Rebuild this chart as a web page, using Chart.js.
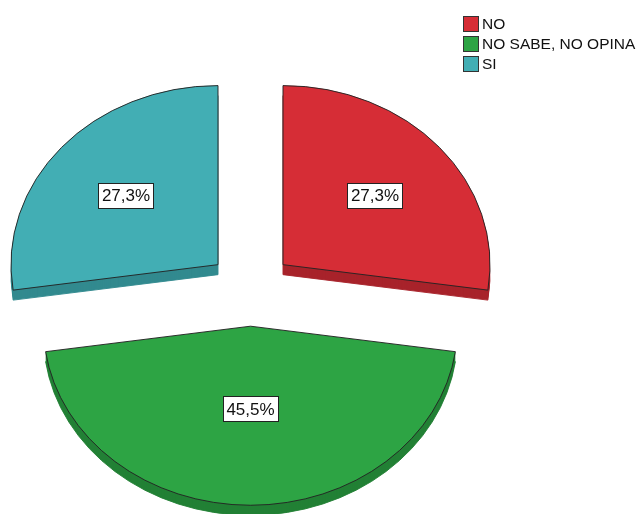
<!DOCTYPE html>
<html>
<head>
<meta charset="utf-8">
<script src="https://cdn.jsdelivr.net/npm/chart.js@4"></script>
<style>
  body { margin: 0; background: #fff; }
  #wrap { position: relative; width: 643px; height: 514px; }
  #legend { position: absolute; left: 463px; top: 14px; font-family: "Liberation Sans", Arial, sans-serif; font-size: 15.5px; color: #111; }
  #legend div { display: flex; align-items: center; height: 20px; }
  #legend span.box { width: 14px; height: 14px; border: 1px solid #333; margin-right: 3px; }
</style>
</head>
<body>
<div id="wrap">
  <canvas id="pieChart" width="643" height="514"></canvas>
  <div id="legend"></div>
</div>
<script>
document.addEventListener('DOMContentLoaded', () => {
    const categories = ['NO', 'NO SABE, NO OPINA', 'SI'];
    const percents = [27.3, 45.5, 27.3];
    const colors = ['#d62d36', '#2da444', '#42aeb4'];
    const sideColors = ['#a8232b', '#228035', '#328a8f'];

    const tilt = 0.865;  // vertical squash for the 3D look
    const depth = 10;    // thickness of the pie
    const explode = 43;  // distance each slice is pulled out

    const fmt = (v) => v.toFixed(1).replace('.', ',') + '%';

    // legend
    const legend = document.getElementById('legend');
    categories.forEach((c, i) => {
        const row = document.createElement('div');
        row.innerHTML = '<span class="box" style="background:' + colors[i] + '"></span>' + c;
        legend.appendChild(row);
    });

    const drawWith = (el, ctx, over) => {
        const orig = el.options;
        el.options = Object.assign(Object.create(orig), over);
        el.draw(ctx);
        el.options = orig;
    };

    const place = (ctx, el, shiftY) => {
        const cx = el.x, cy = el.y;
        const mid = (el.startAngle + el.endAngle) / 2;
        ctx.translate(0, shiftY);
        ctx.translate(cx, cy);
        ctx.scale(1, tilt);
        ctx.translate(-cx, -cy);
        ctx.translate(Math.cos(mid) * explode, Math.sin(mid) * explode);
    };

    const pie3d = {
        id: 'pie3d',
        beforeDatasetsDraw(chart) {
            const ctx = chart.ctx;
            const arcs = chart.getDatasetMeta(0).data;
            arcs.forEach((el, i) => {
                for (let k = depth; k >= 1; k--) {
                    ctx.save();
                    place(ctx, el, k);
                    drawWith(el, ctx, { backgroundColor: sideColors[i], borderColor: sideColors[i], borderWidth: k === depth ? 1 : 0 });
                    ctx.restore();
                }
                ctx.save();
                place(ctx, el, 0);
                el.draw(ctx);
                ctx.restore();
            });
            return false;
        },
        afterDraw(chart) {
            const ctx = chart.ctx;
            const arcs = chart.getDatasetMeta(0).data;
            ctx.save();
            ctx.font = '17px "Liberation Sans", Arial, sans-serif';
            ctx.textAlign = 'center';
            ctx.textBaseline = 'middle';
            arcs.forEach((el, i) => {
                const mid = (el.startAngle + el.endAngle) / 2;
                const half = (el.endAngle - el.startAngle) / 2;
                const r = 2 * el.outerRadius * Math.sin(half) / (3 * half) + explode;
                const x = el.x + Math.cos(mid) * r;
                const y = el.y + Math.sin(mid) * r * tilt;
                const text = fmt(percents[i]);
                const w = ctx.measureText(text).width + 7;
                const h = 25;
                ctx.fillStyle = '#fff';
                ctx.fillRect(Math.round(x - w / 2) + 0.5, Math.round(y - h / 2) + 0.5, Math.round(w), h);
                ctx.strokeStyle = '#222';
                ctx.lineWidth = 1;
                ctx.strokeRect(Math.round(x - w / 2) + 0.5, Math.round(y - h / 2) + 0.5, Math.round(w), h);
                ctx.fillStyle = '#111';
                ctx.fillText(text, x, y + 1);
            });
            ctx.restore();
        }
    };

    const ctx = document.getElementById('pieChart').getContext('2d');
    new Chart(ctx, {
        type: 'pie',
        data: {
            labels: categories,
            datasets: [
                {
                    data: percents,
                    backgroundColor: colors,
                    borderColor: '#222',
                    borderWidth: 1,
                    radius: 207,
                },
            ],
        },
        options: {
            responsive: false,
            animation: false,
            layout: { padding: { left: 0, right: 142, top: 64, bottom: 0 } },
            plugins: {
                legend: { display: false },
                tooltip: { enabled: false },
            },
        },
        plugins: [pie3d],
    });
});
</script>
</body>
</html>
